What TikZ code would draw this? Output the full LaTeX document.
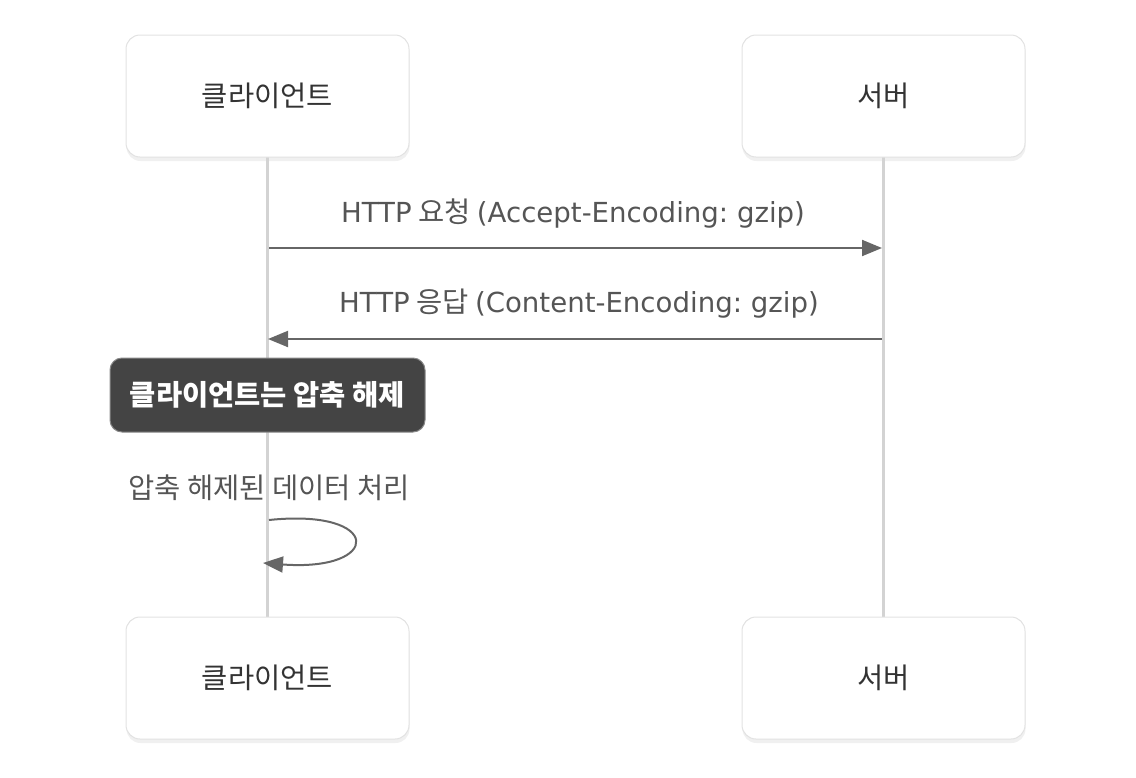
\documentclass[tikz,border=0pt]{standalone}
\usepackage{fontspec}
\setmainfont{Noto Sans CJK KR}
\newfontfamily\lat{DejaVu Sans}
\usetikzlibrary{arrows.meta}
\frenchspacing
\definecolor{boxline}{HTML}{E2E2E2}
\definecolor{txt}{HTML}{333333}
\definecolor{lbl}{HTML}{555555}
\definecolor{life}{HTML}{D3D3D3}
\definecolor{arr}{HTML}{666666}
\definecolor{notefill}{HTML}{444444}
\definecolor{noteline}{HTML}{888888}
\tikzset{
  actor/.style={draw=boxline, line width=1pt, fill=white, rounded corners=14pt,
    minimum width=283pt, minimum height=122pt, font=\fontsize{28.5}{32}\selectfont, text=txt},
  shade/.style={fill=black!6, rounded corners=14pt, minimum width=283pt, minimum height=122pt, draw=none},
  lifeline/.style={draw=life, line width=3pt},
  msg/.style={draw=arr, line width=2pt, -{Triangle[length=20pt,width=16pt]}},
  msglabel/.style={font=\fontsize{28.5}{32}\selectfont, text=lbl},
  notebox/.style={draw=noteline, line width=1pt, fill=notefill, rounded corners=12pt,
    minimum width=315pt, minimum height=74pt, text=white, font=\fontsize{28.5}{32}\selectfont\bfseries}
}
\newcommand{\lt}[1]{{\lat\fontsize{27.6}{32}\selectfont #1}}
\begin{document}
\begin{tikzpicture}[x=1pt,y=-1pt]
\useasboundingbox (0,0) rectangle (1136,777);
% shadows
\node[shade] (s1) at (268,100) {};
\node[shade] (s2) at (884,100) {};
\node[shade] (s3) at (268,682) {};
\node[shade] (s4) at (884,682) {};
% lifelines
\coordinate (l1t) at (267,157);
\coordinate (l1b) at (267,617);
\coordinate (l2t) at (883,157);
\coordinate (l2b) at (883,617);
\draw[lifeline] (l1t) -- (l1b);
\draw[lifeline] (l2t) -- (l2b);
% actors
\node[actor] (c1) at (267.5,96) {클라이언트};
\node[actor] (v1) at (883.5,96) {서버};
\node[actor] (c2) at (267.5,678) {클라이언트};
\node[actor] (v2) at (883.5,678) {서버};
% messages
\coordinate (m1s) at (269,248);
\coordinate (m1e) at (882,248);
\draw[msg] (m1s) -- (m1e);
\node[msglabel] (m1l) at (573,214) {\lt{HTTP} 요청 \lt{(Accept-Encoding: gzip)}};
\coordinate (m2s) at (882,339);
\coordinate (m2e) at (268,339);
\draw[msg] (m2s) -- (m2e);
\node[msglabel] (m2l) at (579,304) {\lt{HTTP} 응답 \lt{(Content-Encoding: gzip)}};
% note
\node[notebox] (note) at (267.5,395) {클라이언트는 압축 해제};
% self loop
\node[msglabel] (selfl) at (269,488) {압축 해제된 데이터 처리};
\coordinate (ls) at (269,520);
\coordinate (le) at (263,563);
\draw[msg] (ls) .. controls (383,508) and (383,572) .. (le);
\end{tikzpicture}
\end{document}
